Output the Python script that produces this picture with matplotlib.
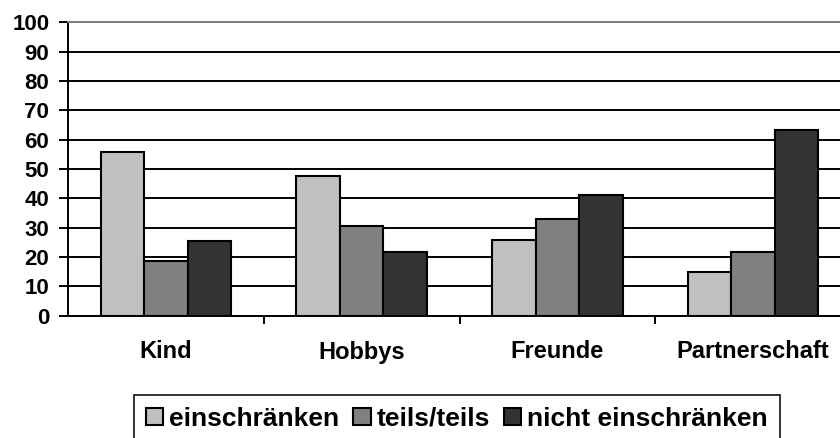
import matplotlib
matplotlib.use("Agg")
import matplotlib.pyplot as plt
import numpy as np

# daten
categories = ["Kind", "Hobbys", "Freunde", "Partnerschaft"]
series = ["einschränken", "teils/teils", "nicht einschränken"]
einschraenken = [55.7, 47.6, 25.6, 14.7]
teils = [18.6, 30.4, 32.9, 21.7]
nicht = [25.4, 21.6, 41.1, 63.2]
colors = ["#c0c0c0", "#808080", "#333333"]

plt.rcParams["font.family"] = ["Liberation Sans", "DejaVu Sans"]
plt.rcParams["font.weight"] = "bold"
plt.rcParams["font.size"] = 16

fig = plt.figure(figsize=(8.4, 4.38), dpi=100)
ax = fig.add_axes([68 / 840, 122.5 / 438, 783 / 840, 293.2 / 438])

x = np.arange(len(categories))
w = 0.222
for j, vals in enumerate([einschraenken, teils, nicht]):
    ax.bar(x + (j - 1) * w, vals, width=w, color=colors[j],
           edgecolor="black", linewidth=1.5, label=series[j], zorder=3)

ax.set_xlim(-0.5, 3.5)
ax.set_ylim(0, 100)
ax.set_yticks(np.arange(0, 101, 10))

# gitterlinien
ax.grid(axis="y", color="black", linewidth=1.4)
ax.set_axisbelow(True)

ax.spines["right"].set_visible(False)
ax.spines["top"].set_color("#808080")
ax.spines["top"].set_linewidth(1.4)
for s in ["left", "bottom"]:
    ax.spines[s].set_linewidth(1.4)

ax.set_xticks(x)
ax.set_xticklabels(categories, fontweight="bold", fontsize=17)
ax.set_xticks([0.5, 1.5, 2.5], minor=True)
ax.tick_params(axis="x", which="major", length=0, pad=18)
ax.tick_params(axis="x", which="minor", length=6, width=1.4, direction="out")
ax.tick_params(axis="y", length=6.5, width=1.4, pad=7)

leg = fig.legend(loc="upper left", bbox_to_anchor=(134 / 840, 1 - 395 / 438),
                 ncol=3, frameon=True, fancybox=False, edgecolor="black",
                 handlelength=0.65, handleheight=0.62, handletextpad=0.22,
                 columnspacing=0.55, borderpad=0.45, borderaxespad=0,
                 prop={"weight": "bold", "size": 19})
leg.get_frame().set_linewidth(1.4)

fig.savefig("out.png", dpi=100)
